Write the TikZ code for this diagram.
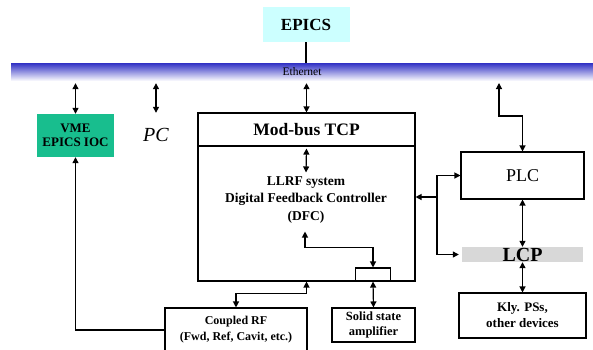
\documentclass[tikz,border=0pt]{standalone}
\usepackage{fontspec}
\setmainfont{Liberation Serif}
\usetikzlibrary{positioning,arrows.meta,calc}
\definecolor{EtherBlue}{RGB}{48,48,196}
\definecolor{EpicsCyan}{RGB}{204,255,255}
\definecolor{IocGreen}{RGB}{24,190,142}
\definecolor{LcpGray}{RGB}{216,216,216}
\tikzset{
  flow/.style={-{Triangle[length=6pt,width=6pt]},line width=1.2pt},
  dflow/.style={{Triangle[length=6pt,width=6pt]}-{Triangle[length=6pt,width=6pt]},line width=1.2pt},
  box/.style={draw,line width=1.1pt,align=center,inner sep=1pt,
    font=\fontsize{13}{16}\selectfont\bfseries},
  headbox/.style={box,font=\fontsize{17.5}{20}\selectfont\bfseries},
  epicsbox/.style={fill=EpicsCyan,align=center,
    font=\fontsize{17}{20}\selectfont\bfseries},
  iocbox/.style={fill=IocGreen,align=center,inner sep=1pt,
    font=\fontsize{13}{14.5}\selectfont\bfseries},
  ethbar/.style={top color=EtherBlue,middle color=EtherBlue!55,bottom color=white,
    inner sep=0pt,font=\fontsize{11.5}{12}\selectfont},
  lcpband/.style={fill=LcpGray,inner sep=0pt,
    font=\fontsize{20}{20}\selectfont\bfseries},
  plain/.style={align=center,inner sep=1pt}
}
\begin{document}
\begin{tikzpicture}[x=1pt,y=-1pt]
  \clip (0,0) rectangle (593,349);
  % network level
  \node[epicsbox,minimum width=87pt,minimum height=35pt] (epics) at (306,24.5) {EPICS};
  \node[ethbar,minimum width=582pt,minimum height=18pt] (eth) at (302,72) {Ethernet};
  \draw[line width=1.1pt] (epics.south) -- (epics.south |- eth.north);

  % IOC and PC
  \node[iocbox,minimum width=77pt,minimum height=43pt] (vme) at (75.5,135.5) {VME\\EPICS IOC};
  \node[plain,minimum height=44pt,font=\fontsize{20}{22}\selectfont\itshape] (pc) at (156,135) {PC};
  \draw[dflow] ([yshift=-2pt]eth.south -| vme.north) -- (vme.north);
  \draw[dflow] ([yshift=-2pt]eth.south -| pc.north) -- (pc.north);

  % LLRF crate
  \node[headbox,minimum width=217pt,minimum height=33pt] (modbus) at (306.5,129.5) {Mod-bus TCP};
  \node[box,minimum width=217pt,minimum height=135pt,below=-1.1pt of modbus] (llrf) {};
  \node[plain,font=\fontsize{13.5}{17.5}\selectfont\bfseries] (dfctext) at (306,200)
    {LLRF system\\Digital Feedback Controller\\(DFC)};
  \node[box,minimum width=35pt,minimum height=13pt] (port) at (373,274.5) {};
  \draw[dflow] ([yshift=-2pt]eth.south -| modbus.north) -- (modbus.north);
  \draw[dflow] ([yshift=-2pt]modbus.south) -- ([yshift=3pt]dfctext.north);
  \draw[dflow] ([xshift=-1pt,yshift=-7pt]dfctext.south) -- ++(0,16) -| (port.north);

  % RF side
  \node[box,font=\fontsize{12}{16}\selectfont\bfseries,minimum width=142pt,minimum height=44pt] (crf) at (236,330)
    {Coupled RF\\(Fwd, Ref, Cavit, etc.)};
  \node[box,font=\fontsize{12.5}{15}\selectfont\bfseries,minimum width=83pt,minimum height=34pt] (ssa) at (373.5,325)
    {Solid state\\amplifier};
  \draw[dflow] (crf.north) -- ++(0,-14) -| (llrf.south);
  \draw[dflow] (port.south) -- (ssa.north);
  \draw[flow] (crf.west) -| (vme.south);

  % machine protection side
  \node[box,font=\fontsize{18}{20}\selectfont,minimum width=123pt,minimum height=47pt] (plc) at (522.5,175.5) {PLC};
  \node[lcpband,minimum width=121pt,minimum height=15pt] (lcp) at (522.5,254.5) {LCP};
  \node[box,minimum width=127pt,minimum height=45pt] (kly) at (522.5,315.5) {Kly. PSs,\\other devices};
  \coordinate (plcup) at (499,83);
  \coordinate (split) at (437,197);
  \draw[dflow] (plcup) -- ++(0,33) -| (plc.north);
  \draw[flow] (split) -- (llrf.east |- split);
  \draw[flow] (split) |- (plc.west);
  \draw[flow] (split) |- ([xshift=-3pt]lcp.west);
  \draw[dflow] (plc.south) -- (lcp.north);
  \draw[dflow] (lcp.south) -- (kly.north);
\end{tikzpicture}
\end{document}
